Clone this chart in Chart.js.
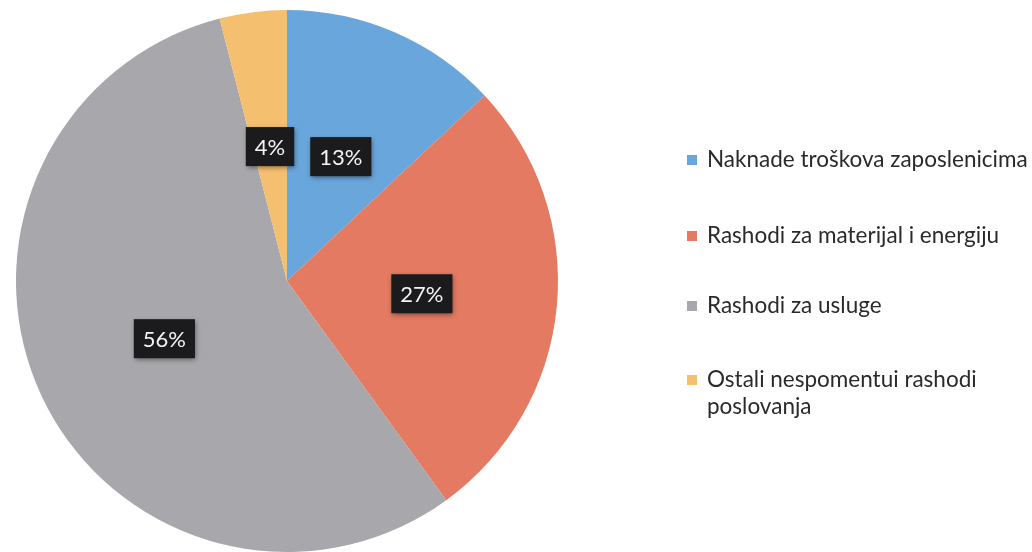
<!DOCTYPE html>
<html>
<head>
<meta charset="utf-8">
<script src="https://cdn.jsdelivr.net/npm/chart.js@4/dist/chart.umd.min.js"></script>
<style>
  html, body { margin: 0; padding: 0; background: #fff; }
  #wrap { width: 1032px; height: 552px; position: relative; }
</style>
</head>
<body>
<div id="wrap"><canvas id="pieChart"></canvas></div>
<script>
  // categories and values (percent)
  var categories = [
    'Naknade troškova zaposlenicima',
    'Rashodi za materijal i energiju',
    'Rashodi za usluge',
    ['Ostali nespomentui rashodi', 'poslovanja']
  ]
  var shares = [13, 27, 56, 4]
  var sliceColors = ['#69A6DC', '#E37A61', '#A8A7AB', '#F4BF6E']

  // dark boxes with the percent, half way out on each slice
  var boxLabels = {
    id: 'boxLabels',
    afterDatasetsDraw: function (chart) {
      var ctx = chart.ctx
      var meta = chart.getDatasetMeta(0)
      ctx.save()
      ctx.font = '22px Lato, "Open Sans", sans-serif'
      ctx.textAlign = 'center'
      ctx.textBaseline = 'middle'
      meta.data.forEach(function (arc, i) {
        var p = arc.getProps(['x', 'y', 'startAngle', 'endAngle', 'outerRadius'], true)
        var mid = (p.startAngle + p.endAngle) / 2
        var cx = p.x + Math.cos(mid) * p.outerRadius * 0.5
        var cy = p.y + Math.sin(mid) * p.outerRadius * 0.5
        var txt = shares[i] + '%'
        var w = ctx.measureText(txt).width + 18
        var h = 39
        ctx.shadowColor = 'rgba(0,0,0,0.45)'
        ctx.shadowBlur = 5
        ctx.shadowOffsetX = 1
        ctx.shadowOffsetY = 2
        ctx.fillStyle = '#1b1a1c'
        ctx.fillRect(cx - w / 2, cy - h / 2, w, h)
        ctx.shadowColor = 'transparent'
        ctx.fillStyle = '#f4f4f4'
        ctx.fillText(txt, cx, cy + 1)
      })
      ctx.restore()
    }
  }

  // legend on the right, drawn from the chart's own legend items
  var sideLegend = {
    id: 'sideLegend',
    afterDraw: function (chart) {
      var ctx = chart.ctx
      var items = Chart.overrides.pie.plugins.legend.labels.generateLabels(chart)
      var rowY = [160, 236, 306, 380]
      var lineH = 27
      ctx.save()
      ctx.font = '22.5px Lato, "Open Sans", sans-serif'
      ctx.textAlign = 'left'
      ctx.textBaseline = 'middle'
      items.forEach(function (item, i) {
        ctx.fillStyle = item.fillStyle
        ctx.fillRect(687, rowY[i] - 5, 10, 10)
        ctx.fillStyle = '#2a2a2a'
        var lines = [].concat(item.text)
        lines.forEach(function (line, j) {
          ctx.fillText(line, 707, rowY[i] + j * lineH)
        })
      })
      ctx.restore()
    }
  }

  var ctx = document.getElementById('pieChart').getContext('2d')
  var chart = new Chart(ctx, {
    type: 'pie',
    data: {
      labels: categories,
      datasets: [{
        data: shares,
        backgroundColor: sliceColors,
        borderWidth: 0
      }]
    },
    options: {
      responsive: true,
      maintainAspectRatio: false,
      animation: false,
      layout: {
        padding: { left: 12, right: 470, top: 10, bottom: 0 }
      },
      plugins: {
        tooltip: { enabled: false },
        legend: { display: false }
      }
    },
    plugins: [boxLabels, sideLegend]
  })
</script>
</body>
</html>
